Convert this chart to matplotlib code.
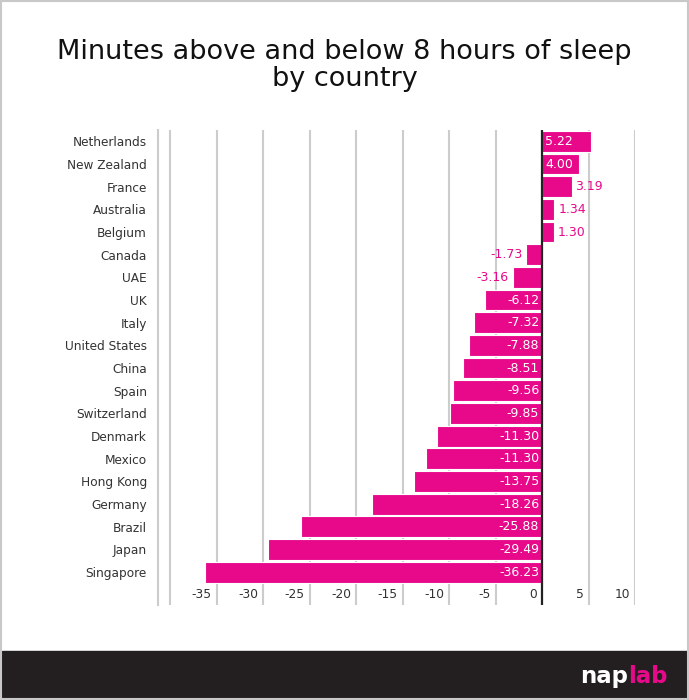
import matplotlib
matplotlib.use('Agg')
import matplotlib.pyplot as plt
from matplotlib.patches import Rectangle

# Data, top to bottom as shown in the chart
countries = [
    'Netherlands', 'New Zealand', 'France', 'Australia', 'Belgium',
    'Canada', 'UAE', 'UK', 'Italy', 'United States', 'China', 'Spain',
    'Switzerland', 'Denmark', 'Mexico', 'Hong Kong', 'Germany', 'Brazil',
    'Japan', 'Singapore'
]
minutes = [
    5.22, 4.00, 3.19, 1.34, 1.30, -1.73, -3.16, -6.12, -7.32, -7.88,
    -8.51, -9.56, -9.85, -11.30, -12.50, -13.75, -18.26, -25.88, -29.49,
    -36.23
]
# printed labels (the source prints -11.30 for Mexico although its bar is longer)
value_labels = [
    '5.22', '4.00', '3.19', '1.34', '1.30', '-1.73', '-3.16', '-6.12',
    '-7.32', '-7.88', '-8.51', '-9.56', '-9.85', '-11.30', '-11.30',
    '-13.75', '-18.26', '-25.88', '-29.49', '-36.23'
]
x_ticks = [-35, -30, -25, -20, -15, -10, -5, 0, 5, 10]
grid_lines = [-40, -35, -30, -25, -20, -15, -10, -5, 5, 10]

PINK = '#e8098b'
W, H = 689, 700

plt.rcParams['font.family'] = 'DejaVu Sans'
fig = plt.figure(figsize=(W / 100, H / 100), dpi=100)

# plot area
ax = fig.add_axes([158 / W, 1 - 605 / H, (635 - 158) / W, 475 / H])
ypos = list(range(len(countries)))
ax.barh(ypos, minutes, height=0.92, color=PINK, edgecolor='white',
        linewidth=0.8, zorder=2)
ax.set_xlim(-41.3, 10)
ax.set_ylim(20.45, -0.5)

for gx in grid_lines:
    ax.axvline(gx, color='#cccccc', lw=1.5, zorder=1)
ax.axvline(0, color='#222222', lw=1.6, zorder=3)

ax.set_yticks(ypos, countries)
ax.tick_params(axis='y', length=0, pad=8, labelsize=8.7, labelcolor='#333333')
ax.set_xticks([])
for side in ['top', 'right', 'bottom']:
    ax.spines[side].set_visible(False)
ax.spines['left'].set_color('#cccccc')
ax.spines['left'].set_linewidth(1.5)

# x tick labels sit just left of their grid line
for t in x_ticks:
    ax.text(t - 0.5, 20.0, str(t), ha='right', va='center', fontsize=8.8,
            color='#333333')

# value labels
for i, (v, lab) in enumerate(zip(minutes, value_labels)):
    if v >= 4:
        ax.text(0.35, i, lab, ha='left', va='center', fontsize=9, color='white', zorder=4)
    elif v > 0:
        ax.text(v + 0.4, i, lab, ha='left', va='center', fontsize=9, color=PINK, zorder=4)
    elif v > -4:
        ax.text(v - 0.4, i, lab, ha='right', va='center', fontsize=9, color=PINK, zorder=4)
    else:
        ax.text(-0.3, i, lab, ha='right', va='center', fontsize=9, color='white', zorder=4)

# title
fig.text(0.5, 1 - 59 / H, 'Minutes above and below 8 hours of sleep',
         ha='center', va='baseline', fontsize=19.5, color='#111111')
fig.text(0.5, 1 - 86 / H, 'by country', ha='center', va='baseline',
         fontsize=19.5, color='#111111')

# footer band and frame
fig.add_artist(Rectangle((2 / W, 3 / H), 685 / W, 46 / H,
                         transform=fig.transFigure, color='#231f20'))
fig.add_artist(Rectangle((0.75 / W, 0.75 / H), (W - 1.5) / W, (H - 1.5) / H,
                         transform=fig.transFigure, fill=False,
                         edgecolor='#c8c8c8', lw=1.5))

# logo: "nap" white + "lab" pink
lab_txt = fig.text(668 / W, 1 - 683 / H, 'lab', ha='right', va='baseline',
                   fontsize=16.5, fontweight='bold', color=PINK)
renderer = fig.canvas.get_renderer()
bb = lab_txt.get_window_extent(renderer=renderer)
fig.text(bb.x0 / fig.bbox.width, 1 - 683 / H, 'nap', ha='right',
         va='baseline', fontsize=16.5, fontweight='bold', color='white')

fig.savefig('out.png', dpi=100)
